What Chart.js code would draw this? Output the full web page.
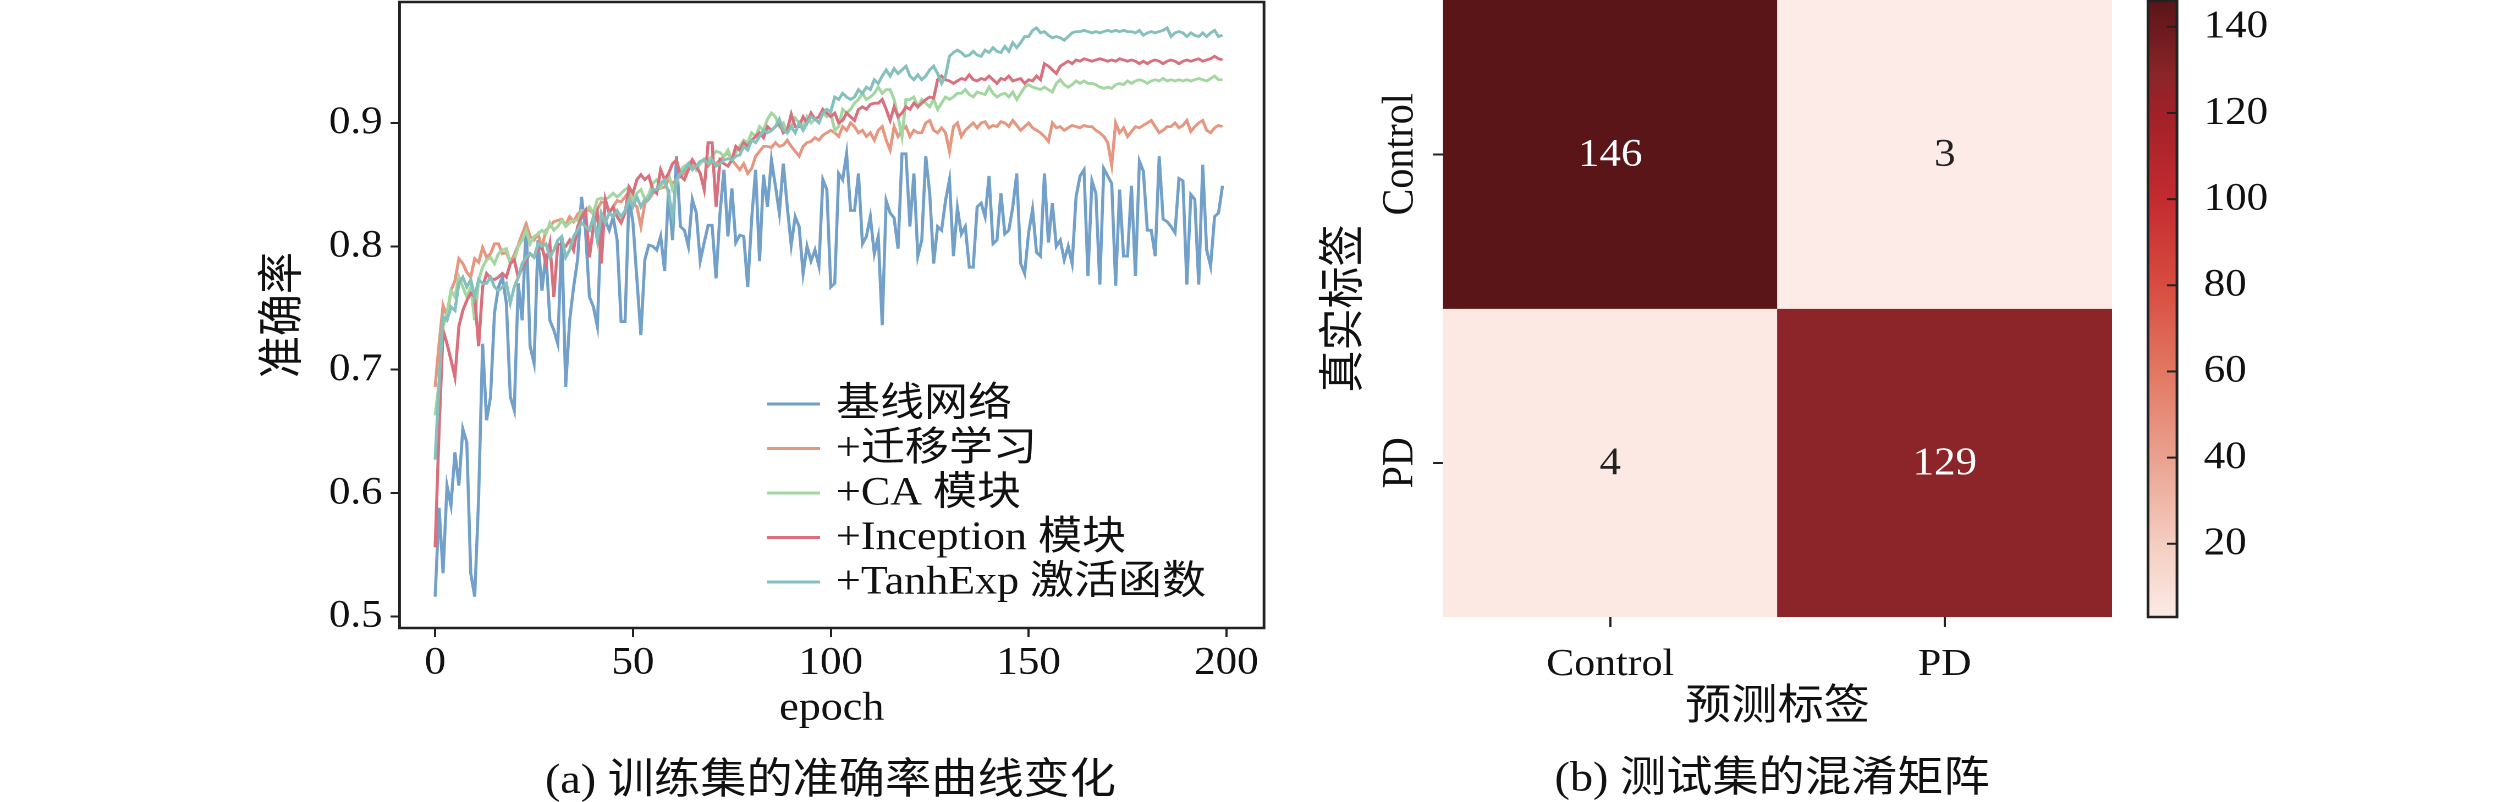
<!DOCTYPE html>
<html>
<head>
<meta charset="utf-8">
<script src="https://cdn.jsdelivr.net/npm/chart.js@4.4.0/dist/chart.umd.min.js"></script>
<style>
  html, body { margin: 0; padding: 0; background: #fff; overflow: hidden; }
  #page { position: absolute; left: 0; top: 0; width: 2290px; height: 802px; transform: scaleX(1.1); transform-origin: 0 0; }
  canvas { position: absolute; }
  #acc { left: 0; top: 0; }
  #cm { left: 1130px; top: 0; }
  #cbar { left: 1920px; top: 0; }
  .cap { position: absolute; font-family: "Liberation Serif", "Noto Sans CJK SC", serif; font-size: 42px; line-height: 1; white-space: nowrap; color: #111; transform: translate(-50%, -50%); }
</style>
</head>
<body>
<div id="page">
  <canvas id="acc" width="1165" height="733"></canvas>
  <canvas id="cm" width="790" height="733"></canvas>
  <canvas id="cbar" width="150" height="620"></canvas>
  <div class="cap" style="left:755px; top:779px">(a) 训练集的准确率曲线变化</div>
  <div class="cap" style="left:1611px; top:777px">(b) 测试集的混淆矩阵</div>
</div>
<script>
// accuracy per epoch (0..199)
const baseAcc = [0.516,0.588,0.535,0.606,0.590,0.633,0.606,0.652,0.641,0.535,0.516,0.597,0.721,0.659,0.678,0.746,0.767,0.775,0.754,0.678,
  0.667,0.770,0.740,0.819,0.719,0.705,0.805,0.764,0.794,0.740,0.732,0.721,0.808,0.686,0.740,0.767,0.789,0.840,0.813,0.759,
  0.751,0.735,0.824,0.821,0.813,0.824,0.805,0.739,0.739,0.840,
  0.819,0.773,0.728,0.789,0.801,0.800,0.797,0.808,0.780,0.846,0.805,0.873,0.816,0.813,0.800,0.838,0.827,0.788,0.803,0.817,
  0.817,0.774,0.827,0.862,0.808,0.847,0.803,0.809,0.808,0.767,0.822,0.862,0.788,0.858,0.832,0.870,0.849,0.827,0.867,0.832,
  0.801,0.824,0.816,0.778,0.800,0.788,0.797,0.784,0.854,0.846,0.767,
  0.770,0.859,0.854,0.875,0.829,0.829,0.859,0.802,0.808,0.824,0.794,0.808,0.736,0.837,0.827,0.823,0.798,0.875,0.875,0.816,
  0.859,0.792,0.805,0.873,0.843,0.786,0.816,0.813,0.837,0.854,0.792,0.831,0.810,0.816,0.783,0.783,0.832,0.835,0.824,0.857,
  0.802,0.805,0.843,0.810,0.813,0.832,0.859,0.786,0.778,
  0.811,0.830,0.795,0.792,0.859,0.803,0.835,0.800,0.805,0.789,0.800,0.786,0.840,0.857,0.862,0.776,0.853,0.843,0.769,0.863,
  0.857,0.851,0.768,0.846,0.792,0.792,0.849,0.776,0.869,0.861,0.813,0.813,0.792,0.873,0.822,0.820,0.816,0.811,0.855,0.853,
  0.769,0.842,0.838,0.769,0.866,0.797,0.784,0.824,0.827,0.849];

const transferAcc = [0.686,0.721,0.752,0.743,0.764,0.772,0.790,0.786,0.779,0.775,0.790,0.787,0.799,0.791,0.794,0.802,0.802,0.794,0.795,0.787,
  0.793,0.801,0.810,0.818,0.808,0.805,0.810,0.799,0.813,0.816,0.820,0.821,0.822,0.817,0.824,0.820,0.826,0.829,0.828,0.830,
  0.826,0.830,0.836,0.835,0.828,0.832,0.837,0.836,0.840,0.844,
  0.835,0.832,0.816,0.835,0.838,0.843,0.846,0.847,0.848,0.854,0.851,0.854,0.857,0.859,0.862,0.865,0.863,0.867,0.870,0.865,
  0.869,0.867,0.870,0.873,0.876,0.870,0.866,0.862,0.867,0.859,0.863,0.873,0.877,0.881,0.881,0.880,0.884,0.881,0.882,0.886,
  0.881,0.877,0.873,0.881,0.884,0.885,0.888,0.886,0.890,0.892,0.894,
  0.892,0.889,0.897,0.894,0.900,0.897,0.892,0.894,0.889,0.892,0.886,0.894,0.897,0.886,0.878,0.897,0.889,0.894,0.897,0.889,
  0.894,0.892,0.892,0.900,0.902,0.894,0.892,0.896,0.892,0.877,0.897,0.900,0.889,0.894,0.897,0.900,0.896,0.900,0.901,0.896,
  0.898,0.897,0.901,0.900,0.897,0.902,0.898,0.894,0.897,
  0.900,0.896,0.894,0.892,0.889,0.885,0.900,0.896,0.897,0.894,0.896,0.898,0.897,0.896,0.898,0.897,0.897,0.894,0.892,0.889,
  0.884,0.866,0.900,0.892,0.896,0.889,0.893,0.897,0.896,0.898,0.900,0.902,0.897,0.892,0.894,0.897,0.897,0.900,0.896,0.898,
  0.902,0.893,0.897,0.900,0.902,0.894,0.892,0.896,0.898,0.897];

const caAcc = [0.663,0.689,0.735,0.746,0.764,0.759,0.775,0.767,0.759,0.767,0.740,0.773,0.783,0.789,0.791,0.786,0.794,0.797,0.798,0.786,
  0.789,0.800,0.805,0.813,0.802,0.808,0.810,0.813,0.810,0.819,0.813,0.816,0.821,0.816,0.819,0.821,0.821,0.829,0.829,0.832,
  0.827,0.838,0.839,0.838,0.840,0.843,0.840,0.843,0.846,0.848,
  0.838,0.843,0.846,0.838,0.842,0.851,0.854,0.848,0.854,0.859,0.846,0.851,0.862,0.865,0.867,0.870,0.862,0.867,0.871,0.870,
  0.873,0.877,0.876,0.873,0.878,0.870,0.876,0.881,0.886,0.884,0.892,0.889,0.897,0.894,0.903,0.908,0.905,0.897,0.900,0.892,
  0.897,0.904,0.900,0.897,0.905,0.900,0.903,0.905,0.908,0.905,0.908,
  0.894,0.897,0.911,0.908,0.911,0.916,0.919,0.924,0.919,0.921,0.924,0.929,0.924,0.927,0.927,0.919,0.905,0.889,0.919,0.919,
  0.921,0.913,0.919,0.916,0.913,0.919,0.911,0.916,0.921,0.919,0.921,0.924,0.924,0.927,0.923,0.921,0.925,0.924,0.923,0.929,
  0.924,0.921,0.923,0.924,0.921,0.925,0.919,0.924,0.929,
  0.931,0.929,0.928,0.927,0.929,0.927,0.925,0.932,0.935,0.931,0.929,0.931,0.934,0.932,0.934,0.932,0.932,0.931,0.929,0.928,
  0.929,0.928,0.931,0.932,0.931,0.934,0.932,0.934,0.935,0.934,0.932,0.934,0.935,0.934,0.936,0.934,0.935,0.934,0.935,0.934,
  0.935,0.934,0.935,0.936,0.935,0.934,0.936,0.938,0.935,0.935];

const inceptionAcc = [0.556,0.651,0.732,0.721,0.708,0.694,0.735,0.748,0.756,0.762,0.759,0.719,0.767,0.778,0.774,0.773,0.775,0.778,0.775,0.786,
  0.789,0.775,0.783,0.789,0.794,0.791,0.797,0.800,0.786,0.802,0.759,0.802,0.801,0.800,0.805,0.797,0.816,0.824,0.829,0.791,
  0.816,0.827,0.786,0.838,0.827,0.832,0.824,0.819,0.827,0.848,
  0.843,0.854,0.858,0.854,0.857,0.846,0.843,0.862,0.854,0.859,0.867,0.870,0.857,0.854,0.862,0.870,0.865,0.859,0.846,0.884,
  0.884,0.832,0.870,0.867,0.865,0.870,0.881,0.878,0.884,0.881,0.886,0.889,0.892,0.888,0.897,0.894,0.897,0.900,0.892,0.894,
  0.907,0.897,0.897,0.905,0.900,0.908,0.903,0.905,0.911,0.908,0.905,
  0.908,0.900,0.902,0.908,0.905,0.902,0.911,0.913,0.911,0.915,0.916,0.916,0.919,0.911,0.902,0.913,0.905,0.908,0.913,0.911,
  0.916,0.913,0.916,0.919,0.921,0.920,0.935,0.938,0.935,0.934,0.932,0.934,0.936,0.935,0.939,0.935,0.934,0.936,0.935,0.938,
  0.935,0.932,0.936,0.935,0.938,0.934,0.935,0.936,0.932,
  0.935,0.934,0.938,0.935,0.948,0.946,0.943,0.940,0.946,0.948,0.950,0.948,0.951,0.950,0.952,0.951,0.950,0.951,0.952,0.951,
  0.950,0.951,0.950,0.952,0.951,0.950,0.951,0.950,0.948,0.950,0.948,0.950,0.951,0.950,0.948,0.950,0.951,0.950,0.948,0.950,
  0.951,0.950,0.951,0.952,0.950,0.951,0.952,0.954,0.952,0.951];

const tanhExpAcc = [0.627,0.689,0.743,0.740,0.751,0.748,0.770,0.775,0.767,0.773,0.759,0.773,0.770,0.770,0.775,0.767,0.764,0.767,0.770,0.754,
  0.767,0.775,0.786,0.791,0.794,0.791,0.802,0.800,0.802,0.791,0.797,0.805,0.808,0.791,0.797,0.808,0.813,0.819,0.816,0.813,
  0.824,0.805,0.827,0.819,0.827,0.824,0.829,0.824,0.829,0.838,
  0.832,0.840,0.832,0.838,0.838,0.846,0.846,0.851,0.854,0.843,0.824,0.854,0.859,0.862,0.867,0.862,0.865,0.869,0.870,0.867,
  0.870,0.865,0.867,0.870,0.871,0.870,0.873,0.874,0.881,0.878,0.886,0.884,0.889,0.894,0.892,0.894,0.897,0.903,0.894,0.892,
  0.897,0.892,0.900,0.894,0.900,0.905,0.903,0.900,0.908,0.911,0.909,
  0.921,0.919,0.924,0.921,0.919,0.921,0.927,0.924,0.929,0.927,0.935,0.932,0.938,0.943,0.938,0.944,0.940,0.943,0.946,0.938,
  0.935,0.939,0.935,0.938,0.943,0.946,0.940,0.932,0.938,0.954,0.957,0.959,0.957,0.954,0.955,0.958,0.955,0.954,0.959,0.957,
  0.961,0.958,0.957,0.962,0.958,0.965,0.961,0.965,0.970,
  0.970,0.975,0.977,0.973,0.974,0.971,0.969,0.970,0.969,0.967,0.970,0.973,0.974,0.974,0.975,0.974,0.973,0.974,0.973,0.974,
  0.975,0.974,0.975,0.974,0.975,0.974,0.974,0.973,0.975,0.971,0.973,0.974,0.973,0.974,0.975,0.977,0.970,0.973,0.974,0.973,
  0.970,0.973,0.971,0.970,0.973,0.970,0.973,0.975,0.970,0.971];

const seriesNames = ['基线网络', '+迁移学习', '+CA 模块', '+Inception 模块', '+TanhExp 激活函数'];
const accTicks = [0.5, 0.6, 0.7, 0.8, 0.9];
const epochTicks = [0, 50, 100, 150, 200];

// confusion matrix
const cmRows = ['Control', 'PD'];
const cmCols = ['Control', 'PD'];
const cmControl = [146, 3];
const cmPD = [4, 129];
const cbarTicks = [20, 40, 60, 80, 100, 120, 140];

// ---- style ----
const S = 1.1;                 // page is stretched horizontally by this
const dx = v => v / S;
const FONT = '"Liberation Serif", "Noto Sans CJK SC", serif';
const INK = '#111';
const lineColors = ['#72a0c9', '#e5977f', '#a4d6a0', '#d9707d', '#85c0bc'];
const cmapStops = [
  [0.00, [252, 235, 230]], [0.12, [245, 205, 193]], [0.26, [235, 161, 143]],
  [0.40, [226, 119, 98]], [0.54, [216, 76, 64]], [0.68, [196, 43, 48]],
  [0.82, [160, 33, 40]], [0.88, [139, 37, 41]], [1.00, [90, 21, 24]]
];

Chart.defaults.font.family = FONT;
Chart.defaults.color = INK;

// no extra room for the end labels: the plot box is placed by hand
const noEdgePad = s => { s.paddingTop = 0; s.paddingBottom = 0; s.paddingLeft = 0; s.paddingRight = 0; };

const boxPlugin = {
  id: 'box',
  afterDraw(chart) {
    const a = chart.chartArea, ctx = chart.ctx;
    ctx.save();
    ctx.strokeStyle = '#222';
    ctx.lineWidth = 2.5;
    ctx.strokeRect(a.left, a.top, a.right - a.left, a.bottom - a.top);
    ctx.restore();
  }
};

// ---------- (a) accuracy curves ----------
const accSeries = [baseAcc, transferAcc, caAcc, inceptionAcc, tanhExpAcc];

const accLegend = {
  id: 'accLegend',
  afterDraw(chart) {
    const a = chart.chartArea, ctx = chart.ctx;
    ctx.save();
    ctx.font = '40px ' + FONT;
    ctx.textBaseline = 'middle';
    ctx.fillStyle = INK;
    chart.data.datasets.forEach((ds, i) => {
      const y = a.top + 402 + i * 44.5;
      ctx.strokeStyle = ds.borderColor;
      ctx.lineWidth = 3;
      ctx.beginPath();
      ctx.moveTo(a.left + dx(367.5), y);
      ctx.lineTo(a.left + dx(420.5), y);
      ctx.stroke();
      ctx.fillText(ds.label, a.left + dx(436.5), y + 1);
    });
    ctx.restore();
  }
};

new Chart(document.getElementById('acc'), {
  type: 'line',
  data: {
    datasets: accSeries.map((arr, i) => ({
      label: seriesNames[i],
      data: arr.map((y, e) => ({ x: e, y: y })),
      borderColor: lineColors[i],
      borderWidth: 2.8,
      pointRadius: 0,
      tension: 0,
      fill: false,
      order: accSeries.length - i
    }))
  },
  options: {
    responsive: false,
    animation: false,
    devicePixelRatio: 2,
    layout: { padding: { left: 233.9, right: 15.9, top: 2, bottom: 0 } },
    plugins: { legend: { display: false }, tooltip: { enabled: false } },
    scales: {
      x: {
        type: 'linear', min: -9, max: 209.5,
        afterBuildTicks: s => { s.ticks = epochTicks.map(v => ({ value: v })); },
        afterFit: s => { s.height = 105; noEdgePad(s); },
        grid: { drawOnChartArea: false, tickLength: 9, tickWidth: 2, tickColor: '#222' },
        border: { display: false },
        ticks: { font: { size: 39 }, padding: 3, maxRotation: 0, callback: v => String(v) },
        title: { display: true, text: 'epoch', font: { size: 40, lineHeight: 1.2 }, padding: 0 }
      },
      y: {
        min: 0.4906, max: 0.998,
        afterBuildTicks: s => { s.ticks = accTicks.map(v => ({ value: v })); },
        afterFit: s => { s.width = 129.3; noEdgePad(s); },
        grid: { drawOnChartArea: false, tickLength: dx(9), tickWidth: 2, tickColor: '#222' },
        border: { display: false },
        ticks: { font: { size: 39 }, padding: dx(8), callback: v => v.toFixed(1) },
        title: { display: true, text: '准确率', font: { size: 42, lineHeight: 1.2 }, padding: 0 }
      }
    }
  },
  plugins: [boxPlugin, accLegend]
});

// ---------- (b) confusion matrix ----------
const cmMatrix = [cmControl, cmPD];
const cmAll = cmMatrix.flat();
const cbMin = Math.min(...cmAll);
const cbMax = Math.max(...cmAll);

function cmapRGB(v) {
  const t = Math.max(0, Math.min(1, (v - cbMin) / (cbMax - cbMin)));
  for (let i = 1; i < cmapStops.length; i++) {
    const [t1, c1] = cmapStops[i];
    const [t0, c0] = cmapStops[i - 1];
    if (t <= t1) {
      const f = (t - t0) / (t1 - t0);
      return c0.map((c, k) => Math.round(c + (c1[k] - c) * f));
    }
  }
  return cmapStops[cmapStops.length - 1][1];
}
const rgbStr = c => `rgb(${c[0]},${c[1]},${c[2]})`;

const cellText = {
  id: 'cellText',
  afterDatasetsDraw(chart) {
    const ctx = chart.ctx;
    ctx.save();
    ctx.font = '39px ' + FONT;
    ctx.textAlign = 'center';
    ctx.textBaseline = 'middle';
    chart.data.datasets.forEach((ds, di) => {
      chart.getDatasetMeta(di).data.forEach((bar, ci) => {
        const v = ds.counts[ci];
        const c = cmapRGB(v);
        const lum = (0.299 * c[0] + 0.587 * c[1] + 0.114 * c[2]) / 255;
        const p = bar.getProps(['x', 'y', 'base'], true);
        ctx.fillStyle = lum < 0.5 ? '#fff' : '#222';
        ctx.fillText(String(v), p.x, (p.y + p.base) / 2 + 1);
      });
    });
    ctx.restore();
  },
  afterDraw(chart) {
    // rotated row labels
    const ys = chart.scales.y, ctx = chart.ctx;
    ctx.save();
    ctx.font = '40px ' + FONT;
    ctx.fillStyle = INK;
    ctx.textAlign = 'center';
    ctx.textBaseline = 'middle';
    ys.ticks.forEach((t, i) => {
      ctx.save();
      ctx.translate(chart.chartArea.left - dx(42), ys.getPixelForTick(i));
      ctx.rotate(-Math.PI / 2);
      ctx.fillText(cmRows[Math.floor(t.value)], 0, 0);
      ctx.restore();
    });
    ctx.restore();
  }
};

new Chart(document.getElementById('cm'), {
  type: 'bar',
  data: {
    labels: cmCols,
    datasets: cmRows.map((r, ri) => ({
      label: r,
      data: cmCols.map(() => 1),
      counts: cmMatrix[ri],
      backgroundColor: cmMatrix[ri].map(v => rgbStr(cmapRGB(v))),
      borderWidth: 0,
      barPercentage: 1,
      categoryPercentage: 1
    }))
  },
  options: {
    responsive: false,
    animation: false,
    devicePixelRatio: 2,
    layout: { padding: { left: 68.4, right: 0, top: 0, bottom: 0 } },
    plugins: { legend: { display: false }, tooltip: { enabled: false } },
    scales: {
      x: {
        stacked: true,
        afterFit: s => { s.height = 116; noEdgePad(s); },
        grid: { offset: false, drawOnChartArea: false, tickLength: 10, tickWidth: 2, tickColor: '#222' },
        border: { display: false },
        ticks: { font: { size: 38 }, padding: 15, maxRotation: 0 },
        title: { display: true, text: '预测标签', font: { size: 42, lineHeight: 1.2 }, padding: 0 }
      },
      y: {
        stacked: true, reverse: true, min: 0, max: cmRows.length,
        afterBuildTicks: s => { s.ticks = cmRows.map((r, i) => ({ value: i + 0.5 })); },
        afterFit: s => { s.width = 113.4; noEdgePad(s); },
        grid: { drawOnChartArea: false, tickLength: dx(10), tickWidth: 2, tickColor: '#222' },
        border: { display: false },
        ticks: { display: false },
        title: { display: true, text: '真实标签', font: { size: 42, lineHeight: 1.2 }, padding: 0 }
      }
    }
  },
  plugins: [cellText]
});

// ---------- colour bar ----------
const cbarTickMarks = {
  id: 'cbarTickMarks',
  afterDraw(chart) {
    const a = chart.chartArea, ctx = chart.ctx, ys = chart.scales.y;
    ctx.save();
    ctx.strokeStyle = '#222';
    ctx.lineWidth = 2;
    ys.ticks.forEach((t, i) => {
      const y = ys.getPixelForTick(i);
      ctx.beginPath();
      ctx.moveTo(a.right - dx(10), y);
      ctx.lineTo(a.right, y);
      ctx.stroke();
    });
    ctx.restore();
  }
};

new Chart(document.getElementById('cbar'), {
  type: 'bar',
  data: {
    labels: [''],
    datasets: [{
      data: [[cbMin, cbMax]],
      backgroundColor: c => {
        const chart = c.chart;
        if (!chart.chartArea) return null;
        const ys = chart.scales.y;
        const g = chart.ctx.createLinearGradient(0, ys.getPixelForValue(cbMin), 0, ys.getPixelForValue(cbMax));
        cmapStops.forEach(([t, rgb]) => g.addColorStop(t, rgbStr(rgb)));
        return g;
      },
      borderWidth: 0,
      barPercentage: 1,
      categoryPercentage: 1
    }]
  },
  options: {
    responsive: false,
    animation: false,
    devicePixelRatio: 2,
    layout: { padding: { left: 32.7, right: 0, top: 1, bottom: 3 } },
    plugins: { legend: { display: false }, tooltip: { enabled: false } },
    scales: {
      x: { display: false },
      y: {
        position: 'right', min: cbMin, max: cbMax,
        afterBuildTicks: s => { s.ticks = cbarTicks.map(v => ({ value: v })); },
        afterFit: s => { s.width = 150 - 32.7 - dx(29); noEdgePad(s); },
        grid: { display: false },
        border: { display: false },
        ticks: { font: { size: 39 }, padding: dx(18), callback: v => String(v) }
      }
    }
  },
  plugins: [boxPlugin, cbarTickMarks]
});
</script>
</body>
</html>
